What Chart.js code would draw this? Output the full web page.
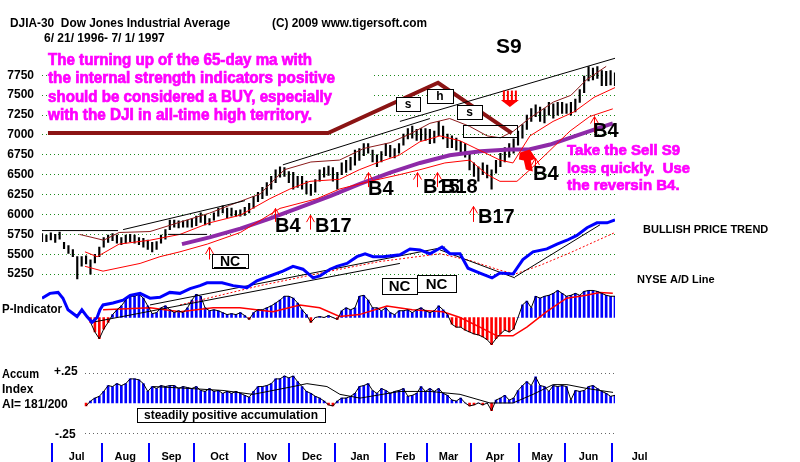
<!DOCTYPE html>
<html>
<head>
<meta charset="utf-8">
<script src="https://cdn.jsdelivr.net/npm/chart.js@4.4.1/dist/chart.umd.min.js"></script>
<style>
  html, body { margin: 0; padding: 0; background: #fff; }
  #wrap { width: 800px; height: 462px; }
</style>
</head>
<body>
<div id="wrap"><canvas id="djiChart" width="800" height="462"></canvas></div>
<script>
// trading day index, 0 = 6/21/1996 ; one sample every 2 trading days
const sampleDays = Array.from({ length: 131 }, (_, k) => k * 2);

// DJIA daily range
const priceHigh = [5760,5740,5770,5750,5780,5650,5610,5560,5470,5470,
  5480,5430,5500,5590,5710,5740,5760,5740,5710,5740,
  5750,5740,5710,5700,5680,5650,5660,5740,5810,5930,
  5930,5920,5920,5930,5950,5980,6020,5990,5950,6020,
  6080,6110,6080,6080,6050,6060,6090,6140,6230,6280,
  6340,6400,6480,6560,6600,6590,6540,6530,6480,6480,
  6420,6380,6440,6560,6590,6610,6590,6530,6650,6680,
  6720,6810,6830,6890,6890,6810,6750,6790,6890,6870,
  6830,6890,7010,7080,7110,7070,7080,7080,7070,7050,
  7170,7110,7010,6990,6960,6920,6890,6770,6650,6600,
  6650,6620,6560,6680,6770,6840,6890,6950,7050,7130,
  7250,7330,7380,7350,7330,7410,7390,7410,7410,7390,
  7410,7450,7570,7740,7860,7840,7860,7810,7800,7810,
  7780];
const priceLow = [5660,5660,5680,5650,5690,5570,5510,5470,5190,5350,
  5380,5250,5390,5470,5590,5650,5670,5640,5620,5640,
  5660,5640,5620,5590,5560,5530,5560,5640,5690,5810,
  5840,5830,5840,5840,5840,5860,5900,5870,5870,5930,
  5980,6020,5960,5980,5980,5980,5990,6020,6080,6160,
  6200,6240,6320,6400,6470,6480,6400,6320,6340,6320,
  6260,6240,6280,6420,6470,6490,6420,6320,6500,6530,
  6560,6620,6680,6740,6770,6660,6600,6660,6740,6720,
  6710,6770,6870,6950,6960,6930,6930,6930,6890,6900,
  6990,6950,6840,6840,6810,6780,6720,6560,6480,6420,
  6500,6460,6320,6520,6600,6660,6720,6770,6870,6960,
  7070,7170,7230,7170,7150,7250,7210,7250,7270,7270,
  7250,7290,7410,7530,7680,7690,7710,7620,7620,7630,
  7620];

// moving averages / bands (day, value)
const ma65Days   = [63.5,76,90,103,117,131,144,158,171.5,185,199,212,221,230.5,239.5,248.5,259];
const ma65Values = [5628,5713,5822,5944,6090,6235,6381,6527,6648,6745,6794,6818,6818,6879,6964,7049,7146];

const upperDays   = [17,28,35,49,63,76,85,99,110,122,135,146,158,167,176,185,194,202,208,214,221,232,240,247,256];
const upperValues = [5750,5677,5774,5786,5907,6017,6114,6259,6563,6660,6684,6830,6903,7012,7146,7206,7109,6988,6964,7049,7206,7413,7498,7692,7862];

const midDays   = [19.5,25,35,49,62.6,76,90,103.4,112.5,121.6,135,144,153,162,171.5,180.6,189.7,198.7,207.8,213.7,221.4,231.9,241.5,250.5,260];
const midValues = [5531,5470,5628,5677,5750,5895,5992,6199,6320,6417,6442,6563,6660,6745,6915,6988,6927,6806,6684,6648,6988,7170,7291,7473,7595];

const lowerDays   = [19.5,27.7,44.5,53.5,62.6,75,90,108,124.8,135,148.8,162.4,171.5,182.8,194.2,202,207.8,215.5,221.4,230.5,239.6,248.5,259];
const lowerValues = [5349,5288,5385,5470,5531,5628,5774,6077,6199,6320,6417,6502,6563,6648,6684,6502,6417,6417,6563,6806,7049,7231,7328];

// trend lines [day1, value1, day2, value2]
const priceTrends = [[0,5798,34.5,5798],[36.8,5810,92.1,6174],[57.2,5750,74.9,5750],
  [109.3,6624,176,7206],[162.4,7170,260.9,7971]];
const bigTurnDays   = [2.7,129.8,179.7,213.2];
const bigTurnValues = [7024,7024,7656,7024];

// NYSE A/D line
const adDays   = [0,3.6,7.3,9.5,11.8,15.9,18.1,20.4,22.7,25,26.3,27.7,32.2,36.8,40,44.5,49,53.5,58,62.6,67.2,71.7,74.9,81.7,86.7,93,
  97.5,103.4,109.3,113.9,118.4,123,126.1,130.7,133.8,138.4,142.9,146.6,150.2,154.7,162.4,167,171.5,176,181.5,185.1,189.7,
  193.3,198.7,204.2,207.8,213.7,218.2,222.8,229.1,233.7,238.2,242.7,247.3,251.8,256.4,260];
const adValues = [7,12,13,7,-5,-12,-5,-12,-18,-13,-5,0,2,5,10,12,7,8,13,12,17,20,23,23,20,18,
  25,30,35,40,37,28,30,37,40,43,50,53,50,50,52,58,57,53,60,53,53,
  38,33,28,33,32,47,55,58,63,67,72,80,85,85,88];
const adMaDays   = [62.6,98.9,130.7,153.4,180.6,194.2,207.8,214.6,226,239.6,253.2,260];
const adMaValues = [0,20,35,45,53,46,36,32,41,54,68,75];
const adTrends = [[22.7,-18,162.4,43],[49,0,182.9,60],[180.6,57,214.6,28],[214.6,29,253.2,83]];

// P-Indicator
const pIndicator = [null,null,null,null,null,null,null,null,null,null,null,
  -50,-150,-220,-120,-50,30,80,120,180,220,
  220,240,200,120,40,50,100,120,80,50,
  70,50,100,180,240,220,100,70,80,70,
  50,30,40,30,50,20,-20,50,80,80,
  100,120,150,180,220,220,200,150,80,30,
  -50,0,10,0,20,0,-20,70,100,80,
  100,220,230,180,100,100,70,100,50,30,
  70,70,80,50,80,100,70,50,70,120,
  80,30,-70,-100,-100,-130,-150,-170,-180,-200,
  -230,-280,-220,-170,-130,-150,-120,0,130,170,
  100,220,200,220,230,250,280,250,220,230,
  250,230,270,280,280,270,250,230,220,220];
const pMaDays   = [27.7,49,62.6,77.6,89.8,104.8,117,126,135,144,156.5,168,182,189.7,198.7,206.4,213.7,220,229,238,247,253,259];
const pMaValues = [80,100,60,100,100,60,130,100,10,30,120,80,60,0,-100,-190,-190,-100,60,200,230,260,250];

// Accumulation Index
const accumIndex = [null,null,null,null,null,null,null,null,null,null,
  -0.024,
  0.016,0.040,0.055,0.095,0.143,0.135,0.159,0.143,0.159,0.198,
  0.198,0.190,0.159,0.095,0.135,0.119,0.143,0.135,0.143,0.143,
  0.119,0.135,0.127,0.119,0.135,0.103,0.095,0.119,0.095,0.103,
  0.079,0.095,0.079,0.095,0.079,0.063,0.047,0.095,0.135,0.135,
  0.143,0.159,0.198,0.198,0.222,0.206,0.222,0.175,0.135,0.095,
  0.079,0.055,0.040,0.016,-0.016,-0.024,0.016,0.040,0.040,0.055,
  0.079,0.135,0.143,0.159,0.103,0.079,0.119,0.103,0.079,0.095,
  0.103,0.119,0.055,0.063,0.079,0.135,0.095,0.119,0.095,0.119,
  0.079,0.063,0.024,0.016,0.040,0,-0.024,-0.016,0,-0.016,
  0,-0.063,0.024,0.040,0.063,0.024,0.040,0.103,0.143,0.175,
  0.143,0.214,0.143,0.135,0.095,0.143,0.135,0.143,0.135,0.024,
  0.103,0.095,0.103,0.135,0.143,0.119,0.095,0.079,0.055,0.063];
const accumMaDays   = [50.4,67.2,82.1,95.7,113.9,120.2,129.3,135.2,144.3,162.4,176,189.7,203.3,213.7,222.8,231.9,238.2,247.3,259.1];
const accumMaValues = [0.135,0.119,0.103,0.071,0.135,0.159,0.135,0.071,0.040,0.095,0.095,0.071,0,0,0.071,0.151,0.151,0.119,0.087];

const priceTicks = [5250,5500,5750,6000,6250,6500,6750,7000,7250,7500,7750];
const monthNames = ['Jul','Aug','Sep','Oct','Nov','Dec','Jan','Feb','Mar','Apr','May','Jun','Jul'];
const monthStartDays = [4.5,27,48.5,69,92,112,133,155.5,174.5,194.5,216.5,237.5,258.5];

// signal arrows: [day, tip value, tail value]
const buyArrows = [[75.8,5592,5434],[105.7,6077,5907],[121.6,5992,5810],[147.9,6527,6344],
  [170.1,6527,6344],[179.2,6527,6344],[195.6,6102,5907],[223.7,6709,6502],[250.5,7231,7024]];

const FONT = '"Liberation Sans", Arial, sans-serif';

function lineSet(xs, ys, color, width, axis, order, dash) {
  return {
    type: 'line', yAxisID: axis, order: order,
    data: xs.map((x, i) => ({ x: x, y: ys[i] })),
    borderColor: color, borderWidth: width, borderDash: dash || [],
    pointRadius: 0, tension: 0, fill: false, spanGaps: false
  };
}
function segSet(segs, color, width, axis, order, dash) {
  const pts = [];
  segs.forEach(s => { pts.push({ x: s[0], y: s[1] }, { x: s[2], y: s[3] }, { x: s[2], y: null }); });
  return {
    type: 'line', yAxisID: axis, order: order, data: pts,
    borderColor: color, borderWidth: width, borderDash: dash || [],
    pointRadius: 0, tension: 0, fill: false, spanGaps: false
  };
}
const posNeg = c => (c.parsed && c.parsed.y < 0 ? '#ff0000' : '#0000ff');

const datasets = [
  lineSet(adDays, adValues, '#0000ff', 3, 'ad', 1),
  segSet(adTrends, '#000000', 1, 'ad', 2),
  lineSet(adMaDays, adMaValues, '#ff0000', 1, 'ad', 2, [2, 2]),
  segSet(priceTrends, '#000000', 1, 'price', 2),
  lineSet(bigTurnDays, bigTurnValues, '#8b1414', 4, 'price', 3),
  lineSet(upperDays, upperValues, '#8b1a1a', 1, 'price', 4),
  lineSet(midDays, midValues, '#ff0000', 1, 'price', 4),
  lineSet(lowerDays, lowerValues, '#ff0000', 1, 'price', 4),
  lineSet(ma65Days, ma65Values, '#8e2aa8', 4, 'price', 5),
  {
    type: 'bar', yAxisID: 'price', order: 6, grouped: false,
    data: sampleDays.map((d, i) => ({ x: d, y: [priceLow[i], priceHigh[i]] })),
    backgroundColor: '#000000', borderWidth: 0, barThickness: 1.5
  },
  lineSet(sampleDays, pIndicator, '#000000', 1, 'pind', 7),
  lineSet(pMaDays, pMaValues, '#ff0000', 1.5, 'pind', 7),
  {
    type: 'bar', yAxisID: 'pind', order: 8, grouped: false,
    data: sampleDays.map((d, i) => ({ x: d, y: pIndicator[i] })),
    backgroundColor: posNeg, borderWidth: 0, barThickness: 2
  },
  lineSet(sampleDays, accumIndex, '#000000', 1, 'accum', 9),
  lineSet(accumMaDays, accumMaValues, '#000000', 1, 'accum', 9),
  {
    type: 'bar', yAxisID: 'accum', order: 10, grouped: false,
    data: sampleDays.map((d, i) => ({ x: d, y: accumIndex[i] })),
    backgroundColor: posNeg, borderWidth: 0, barThickness: 2
  }
];

function txt(c, s, x, y, font, color, maxW, align) {
  c.font = font; c.fillStyle = color;
  c.textAlign = align || 'left'; c.textBaseline = 'alphabetic';
  if (maxW) c.fillText(s, x, y, maxW); else c.fillText(s, x, y);
}
function heavy(c, s, x, y, size, maxW) {
  c.font = 'bold ' + size + 'px ' + FONT;
  c.fillStyle = '#ff00ff'; c.strokeStyle = '#ff00ff'; c.lineWidth = 0.7;
  c.textAlign = 'left'; c.textBaseline = 'alphabetic';
  c.fillText(s, x, y, maxW); c.strokeText(s, x, y, maxW);
}
function box(c, x, y, w, h, label, font) {
  c.fillStyle = '#fff'; c.fillRect(x, y, w, h);
  c.strokeStyle = '#000'; c.lineWidth = 1; c.strokeRect(x + 0.5, y + 0.5, w, h);
  if (label) {
    c.font = font; c.fillStyle = '#000'; c.textAlign = 'center'; c.textBaseline = 'middle';
    c.fillText(label, x + w / 2, y + h / 2 + 1);
  }
}

const decorations = {
  id: 'decorations',
  beforeDatasetsDraw(chart) {
    const c = chart.ctx;
    const acc = chart.scales.accum;
    c.save();
    // white panel behind the comment text
    c.fillStyle = '#fff';
    c.fillRect(48, 46, 324, 79);
    // +.25 / -.25 dotted guides
    c.strokeStyle = '#666'; c.lineWidth = 1; c.setLineDash([1, 3]);
    [0.25, -0.25].forEach(v => {
      const y = Math.round(acc.getPixelForValue(v)) + 0.5;
      c.beginPath(); c.moveTo(85, y); c.lineTo(615, y); c.stroke();
    });
    c.restore();
  },
  afterDatasetsDraw(chart) {
    const c = chart.ctx;
    const xs = chart.scales.x, ps = chart.scales.price;
    c.save();

    // header
    txt(c, 'DJIA-30  Dow Jones Industrial Average', 10, 27, 'bold 12px ' + FONT, '#000', 220);
    txt(c, '(C) 2009 www.tigersoft.com', 272, 27, 'bold 12px ' + FONT, '#000', 155);
    txt(c, '6/ 21/ 1996- 7/ 1/ 1997', 44, 42, 'bold 12px ' + FONT, '#000', 139);

    // comments
    heavy(c, 'The turning up of the 65-day ma with', 48, 65, 16, 264);
    heavy(c, 'the internal strength indicators positive', 48, 83, 16, 287);
    heavy(c, 'should be considered a BUY, especially', 48, 102, 16, 284);
    heavy(c, 'with the DJI in all-time high territory.', 48, 120, 16, 264);
    heavy(c, 'Take the Sell S9', 567, 155, 15, 114);
    heavy(c, 'loss quickly.  Use', 567, 173, 15, 123);
    heavy(c, 'the reversin B4.', 567, 190, 15, 121);

    // buy arrows
    c.strokeStyle = '#ff0000'; c.lineWidth = 1;
    buyArrows.forEach(a => {
      const x = Math.round(xs.getPixelForValue(a[0])) + 0.5;
      const yt = ps.getPixelForValue(a[1]), yb = ps.getPixelForValue(a[2]);
      c.beginPath();
      c.moveTo(x, yb); c.lineTo(x, yt);
      c.moveTo(x - 4, yt + 7); c.lineTo(x, yt); c.lineTo(x + 4, yt + 7);
      c.stroke();
    });

    // S9 sell arrows
    const sx = xs.getPixelForValue(212.3), st = ps.getPixelForValue(7558), sb = ps.getPixelForValue(7352);
    c.fillStyle = '#ff0000';
    [-6, -2, 2, 6].forEach(o => { c.fillRect(sx + o - 1, st, 2, sb - st - 5); });
    c.beginPath(); c.moveTo(sx - 9, sb - 7); c.lineTo(sx + 9, sb - 7); c.lineTo(sx, sb); c.closePath(); c.fill();

    // reversal blob arrow
    const bx = xs.getPixelForValue(220), bt = ps.getPixelForValue(6806), bb = ps.getPixelForValue(6539);
    c.beginPath();
    c.moveTo(bx - 7, bt + 2); c.lineTo(bx + 3, bt - 1); c.lineTo(bx + 9, bt + 8);
    c.lineTo(bx + 4, bt + 10); c.lineTo(bx + 6, bb); c.lineTo(bx - 1, bb - 2);
    c.lineTo(bx - 3, bt + 10); c.lineTo(bx - 8, bt + 9); c.closePath(); c.fill();

    // signal labels
    const sig = 'bold 20px ' + FONT;
    txt(c, 'S9', 496, 53, 'bold 21px ' + FONT, '#000');
    txt(c, 'B4', 275, 232, sig, '#000');
    txt(c, 'B17', 315, 232, sig, '#000');
    txt(c, 'B4', 368, 195, sig, '#000');
    txt(c, 'B15', 423, 193, sig, '#000');
    txt(c, 'B18', 441, 193, sig, '#000');
    txt(c, 'B17', 478, 223, sig, '#000');
    txt(c, 'B4', 533, 180, sig, '#000');
    txt(c, 'B4', 593, 137, sig, '#000');

    // pattern boxes
    const small = 'bold 12px ' + FONT;
    box(c, 396, 97, 24, 14, 's', small);
    box(c, 427, 89, 26, 14, 'h', small);
    box(c, 457, 105, 25, 14, 's', small);
    c.strokeStyle = '#000'; c.lineWidth = 1; c.strokeRect(463.5, 125.5, 54, 12);

    // non-confirmations
    const nc = 'bold 15px ' + FONT;
    box(c, 212, 254, 36, 14, 'NC', 'bold 14px ' + FONT);
    c.fillStyle = '#000'; c.fillRect(214, 267, 32, 2);
    box(c, 382, 278, 35, 16, 'NC', nc);
    box(c, 417, 275, 39, 17, 'NC', nc);

    // right-hand captions
    txt(c, 'BULLISH PRICE TREND', 643, 233, 'bold 11px ' + FONT, '#000', 138);
    txt(c, 'NYSE A/D Line', 637, 283, 'bold 11px ' + FONT, '#000', 86);

    // indicator captions
    txt(c, 'P-Indicator', 2, 313, 'bold 12px ' + FONT, '#000', 60);
    txt(c, 'Accum', 2, 378, 'bold 12px ' + FONT, '#000', 37);
    txt(c, 'Index', 2, 393, 'bold 12px ' + FONT, '#000', 32);
    txt(c, 'AI= 181/200', 2, 408, 'bold 12px ' + FONT, '#000', 70);
    txt(c, '+.25', 54, 375, 'bold 12px ' + FONT, '#000', 26);
    txt(c, '-.25', 55, 438, 'bold 12px ' + FONT, '#000', 22);
    box(c, 137, 408, 188, 14, 'steadily positive accumulation', 'bold 12px ' + FONT);

    // month axis
    const mp = monthStartDays.map(d => xs.getPixelForValue(d));
    c.fillStyle = '#0000ff';
    mp.forEach(px => c.fillRect(Math.round(px) - 1, 443, 2, 19));
    monthNames.forEach((m, i) => {
      const cx = i < mp.length - 1 ? (mp[i] + mp[i + 1]) / 2 : mp[i] + 28;
      txt(c, m, cx, 460, 'bold 11px ' + FONT, '#000', null, 'center');
    });
    c.restore();
  }
};

new Chart(document.getElementById('djiChart'), {
  type: 'line',
  data: { datasets: datasets },
  options: {
    responsive: false,
    animation: false,
    events: [],
    layout: { padding: { left: 0, right: 185, top: 0, bottom: 17 } },
    plugins: { legend: { display: false }, tooltip: { enabled: false } },
    scales: {
      x: { type: 'linear', min: 0, max: 260, offset: false, display: false, grid: { offset: false } },
      price: {
        type: 'linear', position: 'left', min: 3103, max: 8505,
        afterBuildTicks: s => { s.ticks = priceTicks.map(v => ({ value: v })); },
        afterFit: s => { s.width = 42; },
        border: { display: false, dash: [1, 3] },
        grid: { color: '#1a8a1a', lineWidth: 1, drawTicks: false },
        ticks: {
          color: '#000', padding: 8, font: { family: FONT, size: 12, weight: 'bold' },
          callback: v => String(v)
        }
      },
      ad:    { type: 'linear', display: false, min: -145, max: 300 },
      pind:  { type: 'linear', display: false, min: -1320, max: 3130 },
      accum: { type: 'linear', display: false, min: -0.3452, max: 3.1865 }
    }
  },
  plugins: [decorations]
});
</script>
</body>
</html>
